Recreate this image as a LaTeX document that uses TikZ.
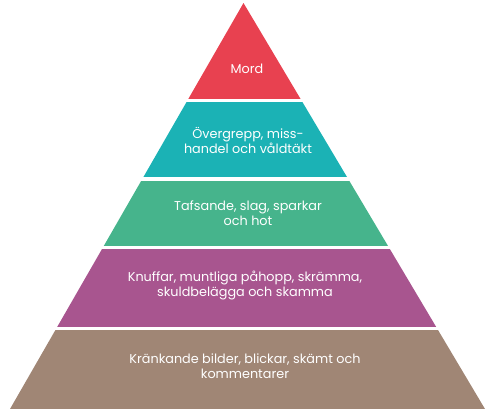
\documentclass[tikz,border=0pt]{standalone}
\usepackage{fontspec}
\setmainfont{Poppins}
\definecolor{cred}{RGB}{232,65,80}
\definecolor{cteal}{RGB}{27,178,181}
\definecolor{cgreen}{RGB}{70,180,140}
\definecolor{cpurple}{RGB}{168,85,143}
\definecolor{cbrown}{RGB}{160,134,117}
\tikzset{
  lbl/.style={text=white, align=center, inner sep=0pt,
    font=\fontsize{12.8}{15}\selectfont},
}
\begin{document}
\begin{tikzpicture}[x=1pt,y=-1pt]
\useasboundingbox (0,0) rectangle (490,420);
\coordinate (apex) at (243.5,3);
\coordinate (bl) at (10,409);
\coordinate (br) at (485,409);
\begin{scope}
  \clip (apex) -- (br) -- (bl) -- cycle;
  \fill[cred] (0,3) rectangle (490,98.5);
  \fill[cteal] (0,101.5) rectangle (490,177);
  \fill[cgreen] (0,180.5) rectangle (490,245.5);
  \fill[cpurple] (0,248.5) rectangle (490,326.5);
  \fill[cbrown] (0,329.5) rectangle (490,409);
\end{scope}
\node[lbl] (mord) at (247,69) {Mord};
\node[lbl] (overgrepp) at (248,140) {Övergrepp, miss-\\handel och våldtäkt};
\node[lbl] (tafsande) at (248,213) {Tafsande, slag, sparkar\\och hot};
\node[lbl] (knuffar) at (245,285.5) {Knuffar, muntliga påhopp, skrämma,\\skuldbelägga och skamma};
\node[lbl] (krankande) at (245,366) {Kränkande bilder, blickar, skämt och\\kommentarer};
\end{tikzpicture}
\end{document}
